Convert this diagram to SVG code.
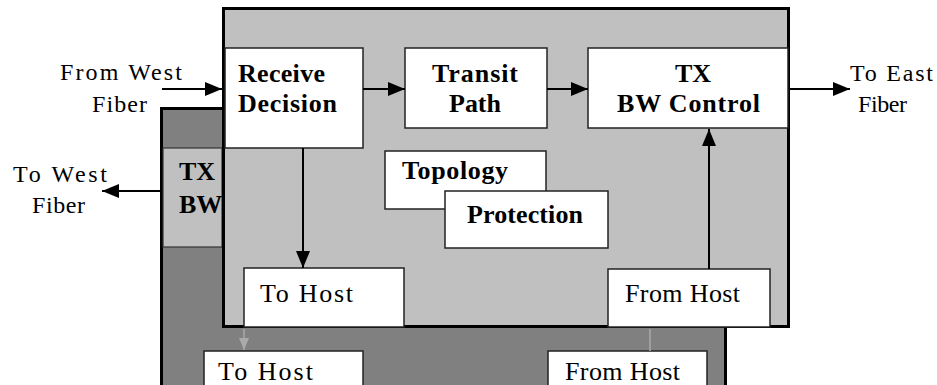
<svg xmlns="http://www.w3.org/2000/svg" width="937" height="385" viewBox="0 0 937 385">
<defs>
<style>
.panelF{fill:#c0c0c0;stroke:#000;stroke-width:3}
.panelB{fill:#808080;stroke:#000;stroke-width:3}
.box{fill:#fff;stroke:#222;stroke-width:1.5}
.lbox{fill:#c0c0c0;stroke:#333;stroke-width:1.2}
.b{font-family:"Liberation Serif","Times New Roman",serif;font-weight:bold;font-size:26px;fill:#000}
.r{font-family:"Liberation Serif","Times New Roman",serif;font-size:24px;fill:#000}
.h{font-family:"Liberation Serif","Times New Roman",serif;font-size:26px;fill:#000}
.ln{stroke:#000;stroke-width:2;fill:none}
.faint{stroke:#aaa;stroke-width:1.5;fill:none}
</style>
<marker id="ah" markerUnits="userSpaceOnUse" markerWidth="17" markerHeight="14" viewBox="0 0 17 14" refX="17" refY="7" orient="auto">
<path d="M0,0 L17,7 L0,14 z" fill="#000"/>
</marker>
<marker id="ahf" markerUnits="userSpaceOnUse" markerWidth="12" markerHeight="10" viewBox="0 0 12 10" refX="12" refY="5" orient="auto">
<path d="M0,0 L12,5 L0,10 z" fill="#aaa"/>
</marker>
</defs>
<rect width="937" height="385" fill="#fff"/>

<g id="back-panel">
<rect class="panelB" x="161.5" y="108.5" width="564" height="300"/>
</g>
<g id="back-tx-bw">
<rect class="lbox" x="163" y="148" width="59" height="99"/>
<text class="b" x="197" y="180" text-anchor="middle">TX</text>
<text class="b" x="179" y="213">BW</text>
</g>
<g id="back-to-host">
<rect class="box" x="204" y="351" width="159" height="50"/>
<text class="h" x="218" y="380" textLength="95" lengthAdjust="spacing">To Host</text>
</g>
<g id="back-from-host">
<rect class="box" x="548" y="351" width="159" height="50"/>
<text class="h" x="565" y="380" textLength="115" lengthAdjust="spacing">From Host</text>
</g>

<g id="front-panel">
<rect class="panelF" x="223.5" y="8.5" width="565" height="318"/>
</g>
<g id="receive-decision">
<rect class="box" x="225" y="48" width="138" height="100"/>
<text class="b" x="238" y="82" textLength="87" lengthAdjust="spacing">Receive</text>
<text class="b" x="238" y="112" textLength="99" lengthAdjust="spacing">Decision</text>
</g>
<g id="transit-path">
<rect class="box" x="405" y="48" width="142" height="80"/>
<text class="b" x="432" y="82" textLength="86" lengthAdjust="spacing">Transit</text>
<text class="b" x="449" y="112" textLength="52" lengthAdjust="spacing">Path</text>
</g>
<g id="tx-bw-control">
<rect class="box" x="588" y="48" width="200" height="80"/>
<text class="b" x="693" y="82" text-anchor="middle">TX</text>
<text class="b" x="617" y="112" textLength="143" lengthAdjust="spacing">BW Control</text>
</g>
<g id="topology">
<rect class="box" x="385" y="151" width="161" height="58"/>
<text class="b" x="402" y="179" textLength="106" lengthAdjust="spacing">Topology</text>
</g>
<g id="protection">
<rect class="box" x="445" y="191" width="163" height="57"/>
<text class="b" x="467" y="223" textLength="116" lengthAdjust="spacing">Protection</text>
</g>
<g id="to-host">
<rect class="box" x="244" y="268" width="160" height="59"/>
<text class="h" x="260" y="302" textLength="93" lengthAdjust="spacing">To Host</text>
</g>
<g id="from-host">
<rect class="box" x="608" y="269" width="162" height="58"/>
<text class="h" x="625" y="302" textLength="115" lengthAdjust="spacing">From Host</text>
</g>

<g id="labels">
<text class="r" x="60" y="80" textLength="122" lengthAdjust="spacing">From West</text>
<text class="r" x="92" y="112" textLength="55" lengthAdjust="spacing">Fiber</text>
<text class="r" x="850" y="81" textLength="83" lengthAdjust="spacing">To East</text>
<text class="r" x="858" y="112" textLength="49" lengthAdjust="spacing">Fiber</text>
<text class="r" x="13" y="182" textLength="94" lengthAdjust="spacing">To West</text>
<text class="r" x="32" y="213" textLength="53" lengthAdjust="spacing">Fiber</text>
</g>

<g id="connectors">
<line class="ln" x1="162" y1="89" x2="222" y2="89" marker-end="url(#ah)"/>
<line class="ln" x1="363" y1="89" x2="405" y2="89" marker-end="url(#ah)"/>
<line class="ln" x1="547" y1="89" x2="588" y2="89" marker-end="url(#ah)"/>
<line class="ln" x1="790" y1="89" x2="850" y2="89" marker-end="url(#ah)"/>
<line class="ln" x1="160" y1="191" x2="102" y2="191" marker-end="url(#ah)"/>
<line class="ln" x1="303" y1="148" x2="303" y2="268" marker-end="url(#ah)"/>
<line class="ln" x1="709" y1="269" x2="709" y2="129" marker-end="url(#ah)"/>
<line class="faint" x1="244" y1="329" x2="244" y2="350" marker-end="url(#ahf)"/>
<line class="faint" x1="650" y1="329" x2="650" y2="351"/>
</g>
</svg>
